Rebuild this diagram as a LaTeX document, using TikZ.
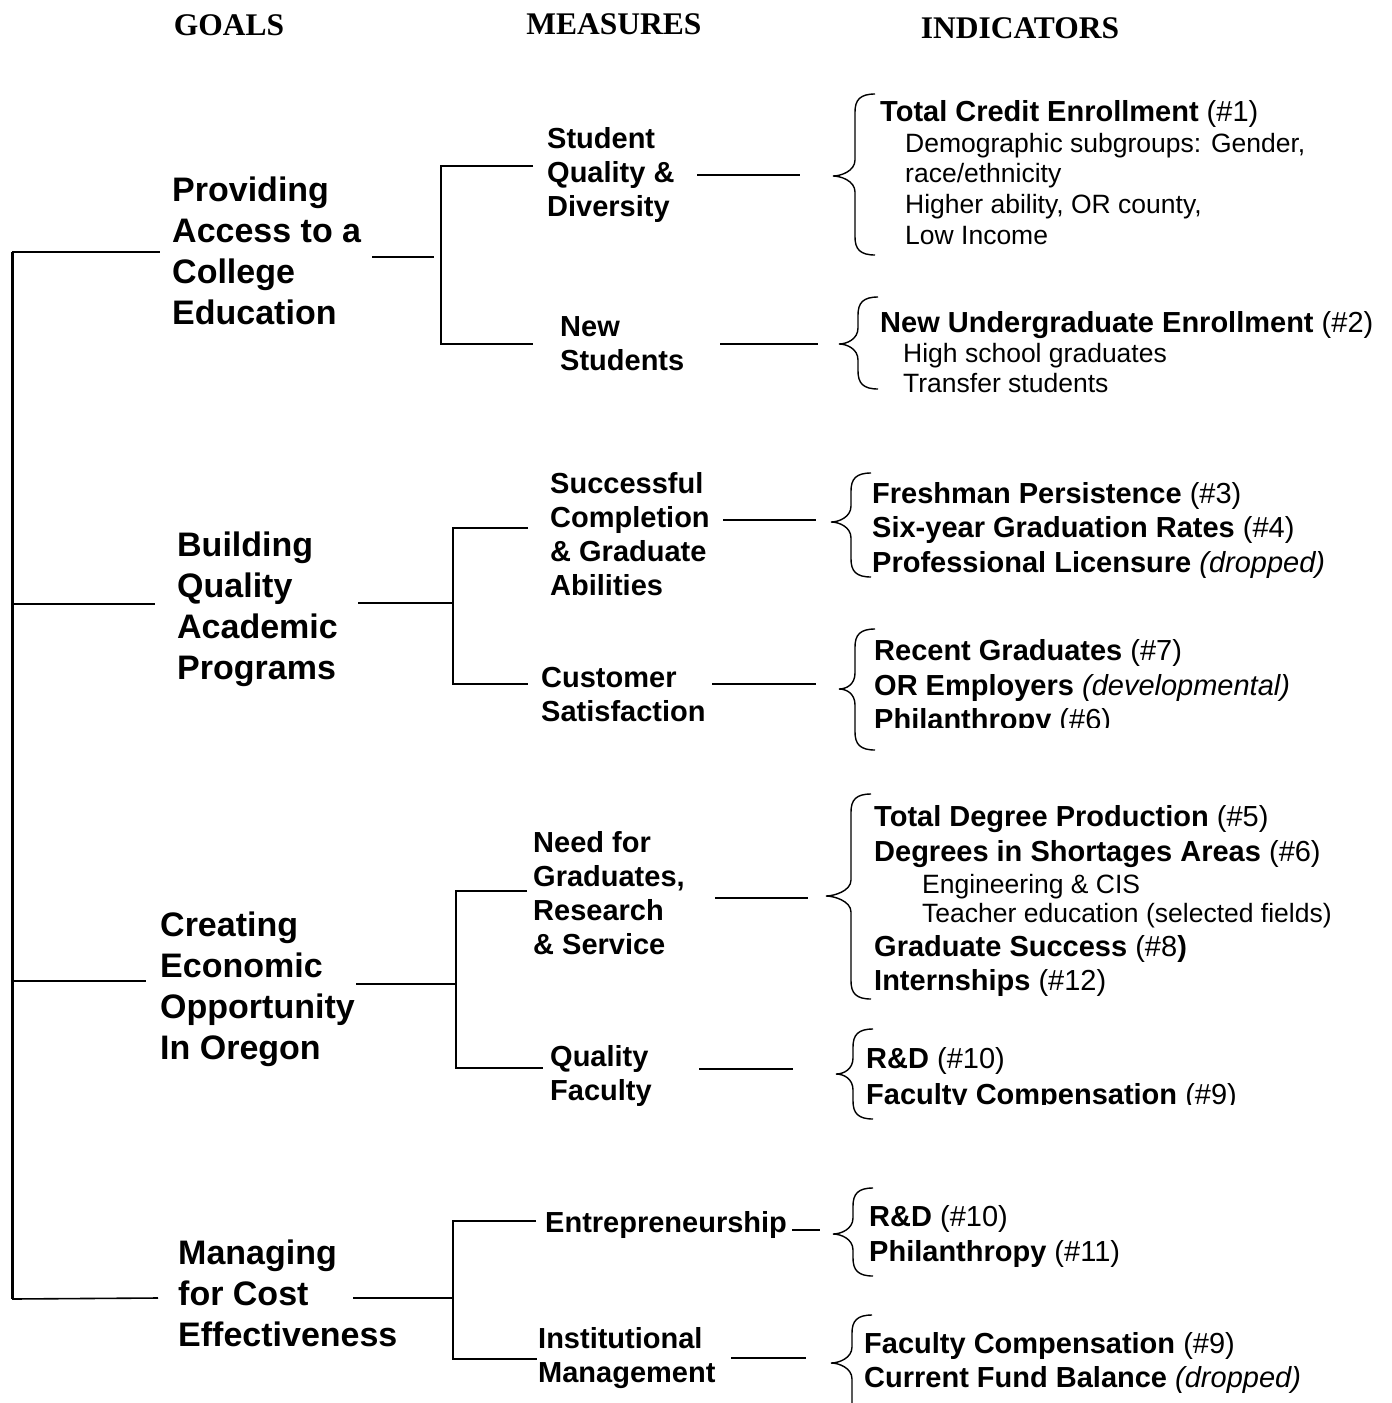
\documentclass[tikz,border=0pt]{standalone}
\usepackage{fontspec}
\setmainfont{Liberation Sans}
\newfontfamily\hdrfont{Liberation Serif}
% left curly brace: #1 x of stem, #2 top y, #3 tip y, #4 bottom y, #5 tip x
\newcommand\curlyb[5]{%
\draw[bracel] ({#1+20},#2) .. controls ({#1+5},#2) and (#1,{#2+6}) .. (#1,{#2+18})
  -- (#1,{#3-16}) .. controls (#1,{#3-5}) and ({#5+8},#3) .. (#5,#3)
  .. controls ({#5+8},#3) and (#1,{#3+5}) .. (#1,{#3+16})
  -- (#1,{#4-18}) .. controls (#1,{#4-6}) and ({#1+5},#4) .. ({#1+20},#4);}
\begin{document}
\begin{tikzpicture}[x=1pt,y=-1pt,
  hdr/.style={anchor=base,inner sep=0,font=\hdrfont\fontsize{31.5}{36}\selectfont\bfseries},
  goal/.style={anchor=north west,inner sep=0,align=left,font=\fontsize{34}{41}\selectfont\bfseries},
  meas/.style={anchor=north west,inner sep=0,align=left,font=\fontsize{29}{34}\selectfont\bfseries},
  ind/.style={anchor=base west,inner sep=0,font=\fontsize{29}{34}\selectfont},
  sub/.style={anchor=base west,inner sep=0,font=\fontsize{26.5}{31}\selectfont},
  conn/.style={line width=1.6pt},
  spine/.style={line width=3pt},
  bracel/.style={line width=1.4pt}]
\clip (0,0) rectangle (1392,1403);
\fill[white] (0,0) rectangle (1392,1403);

% headers
\node[hdr] (hg) at (229,35) {GOALS};
\node[hdr] (hm) at (614,34) {MEASURES};
\node[hdr] (hi) at (1020,38) {INDICATORS};

% goals
\node[goal] (g1) at (172,172.3) {\strut Providing\\Access to a\\College\\Education};
\node[goal] (g2) at (177,527.3) {\strut Building\\Quality\\Academic\\Programs};
\node[goal] (g3) at (160,907.3) {\strut Creating\\Economic\\Opportunity\\In Oregon};
\node[goal] (g4) at (178,1235.3) {\strut Managing\\for Cost\\Effectiveness};

% measures
\node[meas] (m1) at (547,124.2) {\strut Student\\Quality \&\\Diversity};
\node[meas] (m2) at (560,312.2) {\strut New\\Students};
\node[meas] (m3) at (550,469.2) {\strut Successful\\Completion\\\& Graduate\\Abilities};
\node[meas] (m4) at (541,663.2) {\strut Customer\\Satisfaction};
\node[meas] (m5) at (533,828.2) {\strut Need for\\Graduates,\\Research\\\& Service};
\node[meas] (m6) at (550,1042.2) {\strut Quality\\Faculty};
\node[meas] (m7) at (545,1208.2) {\strut Entrepreneurship};
\node[meas] (m8) at (538,1324.2) {\strut Institutional\\Management};

% indicators
\node[ind] (i1a) at (880,121) {\textbf{Total Credit Enrollment} (\#1)};
\node[sub] (i1b) at (905,152) {Demographic subgroups: Gender,};
\node[sub] (i1c) at (905,182) {race/ethnicity};
\node[sub] (i1d) at (905,213) {Higher ability, OR county,};
\node[sub] (i1e) at (905,244) {Low Income};

\node[ind] (i2a) at (880,332) {\textbf{New Undergraduate Enrollment} (\#2)};
\node[sub] (i2b) at (903,362) {High school graduates};
\node[sub] (i2c) at (903,392) {Transfer students};

\node[ind] (i3a) at (872,503) {\textbf{Freshman Persistence} (\#3)};
\node[ind] (i3b) at (872,537) {\textbf{Six-year Graduation Rates} (\#4)};
\node[ind] (i3c) at (872,572) {\textbf{Professional Licensure} \textit{(dropped)}};

\node[ind] (i4a) at (874,660) {\textbf{Recent Graduates} (\#7)};
\node[ind] (i4b) at (874,695) {\textbf{OR Employers} \textit{(developmental)}};
\begin{scope}
\clip (860,700) rectangle (1392,727);
\node[ind] (i4c) at (874,729.5) {\textbf{Philanthropy} (\#6)};
\end{scope}

\node[ind] (i5a) at (874,826) {\textbf{Total Degree Production} (\#5)};
\node[ind] (i5b) at (874,861) {\textbf{Degrees in Shortages Areas} (\#6)};
\node[sub] (i5c) at (922,893) {Engineering \& CIS};
\node[sub] (i5d) at (922,922) {Teacher education (selected fields)};
\node[ind] (i5e) at (874,956) {\textbf{Graduate Success} (\#8\textbf{)}};
\node[ind] (i5f) at (874,990) {\textbf{Internships} (\#12)};

\node[ind] (i6a) at (866,1068) {\textbf{R\&D} (\#10)};
\begin{scope}
\clip (850,1075) rectangle (1392,1104);
\node[ind] (i6b) at (866,1104) {\textbf{Faculty Compensation} (\#9)};
\end{scope}

\node[ind] (i7a) at (869,1226) {\textbf{R\&D} (\#10)};
\node[ind] (i7b) at (869,1261) {\textbf{Philanthropy} (\#11)};

\node[ind] (i8a) at (864,1353) {\textbf{Faculty Compensation} (\#9)};
\node[ind] (i8b) at (864,1387) {\textbf{Current Fund Balance} \textit{(dropped)}};

% braces
\curlyb{855}{94}{176}{255}{833}
\curlyb{858}{297}{344}{389}{839}
\curlyb{851}{473}{522}{577}{831}
\curlyb{855}{629}{689}{750}{839}
\curlyb{851}{794}{896}{999}{826}
\curlyb{853}{1029}{1074}{1119}{836}
\curlyb{853}{1188}{1234}{1276}{833}
\curlyb{852}{1315}{1363}{1430}{831}

% coordinates for connectors
\coordinate (sp1) at (12,252);  \coordinate (gl1) at (160,252);
\coordinate (sp2) at (12,604);  \coordinate (gl2) at (155,604);
\coordinate (sp3) at (12,981);  \coordinate (gl3) at (146,981);
\coordinate (sp4) at (12,1299); \coordinate (gl4) at (158,1298);

\coordinate (gr1) at (372,257);  \coordinate (gj1) at (434,257);
\coordinate (f1t) at (441,166);  \coordinate (f1b) at (441,344);
\coordinate (m1l) at (533,166);  \coordinate (m2l) at (533,344);

\coordinate (gr2) at (358,603);  \coordinate (f2m) at (453,603);
\coordinate (f2t) at (453,528);  \coordinate (f2b) at (453,684);
\coordinate (m3l) at (528,528);  \coordinate (m4l) at (528,684);

\coordinate (gr3) at (356,984);  \coordinate (f3m) at (456,984);
\coordinate (f3t) at (456,891);  \coordinate (f3b) at (456,1068);
\coordinate (m5l) at (527,891);  \coordinate (m6l) at (543,1068);

\coordinate (gr4) at (353,1298); \coordinate (f4m) at (453,1298);
\coordinate (f4t) at (453,1221); \coordinate (f4b) at (453,1359);
\coordinate (m7l) at (536,1221); \coordinate (m8l) at (537,1359);

\coordinate (m1r) at (697,175);  \coordinate (b1) at (800,175);
\coordinate (m2r) at (720,344);  \coordinate (b2) at (818,344);
\coordinate (m3r) at (723,520);  \coordinate (b3) at (816,520);
\coordinate (m4r) at (712,684);  \coordinate (b4) at (816,684);
\coordinate (m5r) at (715,898);  \coordinate (b5) at (808,898);
\coordinate (m6r) at (699,1069); \coordinate (b6) at (793,1069);
\coordinate (m7r) at (792,1230); \coordinate (b7) at (820,1230);
\coordinate (m8r) at (731,1358); \coordinate (b8) at (806,1358);

% spine and goal connectors
\draw[spine] (sp1) -- (sp4);
\draw[conn] (sp1) -- (gl1);
\draw[conn] (sp2) -- (gl2);
\draw[conn] (sp3) -- (gl3);
\draw[conn] (sp4) -- (gl4);

% goal to measure forks
\draw[conn] (gr1) -- (gj1);
\draw[conn] (m1l) -- (f1t) -- (f1b) -- (m2l);
\draw[conn] (gr2) -- (f2m);
\draw[conn] (m3l) -- (f2t) -- (f2b) -- (m4l);
\draw[conn] (gr3) -- (f3m);
\draw[conn] (m5l) -- (f3t) -- (f3b) -- (m6l);
\draw[conn] (gr4) -- (f4m);
\draw[conn] (m7l) -- (f4t) -- (f4b) -- (m8l);

% measure to indicator connectors
\draw[conn] (m1r) -- (b1);
\draw[conn] (m2r) -- (b2);
\draw[conn] (m3r) -- (b3);
\draw[conn] (m4r) -- (b4);
\draw[conn] (m5r) -- (b5);
\draw[conn] (m6r) -- (b6);
\draw[conn] (m7r) -- (b7);
\draw[conn] (m8r) -- (b8);
\end{tikzpicture}
\end{document}
